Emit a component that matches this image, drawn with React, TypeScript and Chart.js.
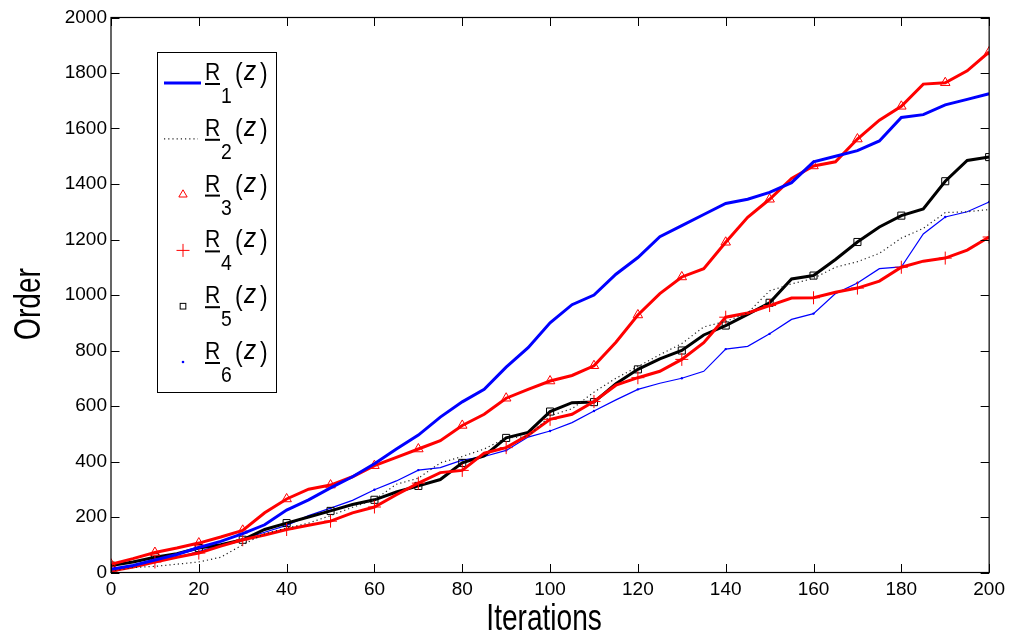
import React, { useEffect, useRef } from 'react';
import { Chart, registerables } from 'chart.js';

Chart.register(...registerables);

// ---------- data ----------
const iterations = [
  0, 5, 10, 15, 20, 25, 30, 35, 40, 45, 50, 55, 60, 65, 70, 75, 80, 85, 90, 95, 100,
  105, 110, 115, 120, 125, 130, 135, 140, 145, 150, 155, 160, 165, 170, 175, 180, 185, 190, 195, 200,
];

const r1Values = [
  12, 25, 45, 65, 90, 112, 140, 172, 225, 262, 305, 345, 392, 445, 495, 560, 615, 660, 740, 810, 900,
  965, 1000, 1075, 1135, 1210, 1250, 1290, 1330, 1345, 1370, 1405, 1480, 1500, 1520, 1555, 1640, 1650, 1685, 1705, 1725,
];
const r2Values = [
  5, 18, 22, 30, 38, 55, 100, 140, 160, 178, 205, 235, 262, 318, 340, 395, 418, 445, 485, 490, 565,
  590, 650, 700, 742, 785, 825, 885, 905, 935, 1015, 1040, 1060, 1100, 1120, 1150, 1205, 1240, 1297, 1300, 1308,
];
const r3Values = [
  30, 50, 72, 88, 106, 128, 152, 215, 265, 300, 315, 345, 385, 415, 445, 475, 530, 570, 628, 660, 690,
  710, 745, 830, 928, 1005, 1065, 1095, 1190, 1280, 1345, 1420, 1465, 1480, 1562, 1630, 1680, 1760, 1765, 1808, 1876,
];
const r4Values = [
  5, 20, 38, 55, 70, 95, 118, 135, 155, 170, 185, 215, 236, 280, 322, 360, 368, 430, 450, 495, 552,
  570, 616, 675, 702, 725, 768, 828, 920, 935, 962, 989, 990, 1010, 1025, 1050, 1100, 1122, 1133, 1162, 1209,
];
const r5Values = [
  25, 38, 55, 68, 88, 100, 118, 155, 178, 200, 222, 245, 262, 290, 312, 335, 395, 420, 485, 505, 580,
  612, 614, 680, 732, 770, 800, 856, 890, 930, 972, 1058, 1070, 1128, 1191, 1245, 1286, 1310, 1410, 1485, 1497,
];
const r6Values = [
  8, 20, 38, 55, 75, 100, 120, 145, 170, 205, 232, 260, 298, 330, 369, 378, 405, 418, 440, 488, 510,
  540, 582, 622, 660, 682, 700, 725, 805, 815, 860, 912, 933, 1005, 1043, 1095, 1101, 1220, 1281, 1300, 1335,
];

const xTicks = [0, 20, 40, 60, 80, 100, 120, 140, 160, 180, 200];
const yTicks = [0, 200, 400, 600, 800, 1000, 1200, 1400, 1600, 1800, 2000];
const seriesIndices = ['1', '2', '3', '4', '5', '6'];
const xTitle = 'Iterations';
const yTitle = 'Order';

// ---------- layout / style ----------
const W = 1011;
const H = 636;
const AREA = { left: 111, top: 17.5, right: 991, bottom: 572.5 };
const FONT = '"Liberation Sans", Arial, Helvetica, sans-serif';
const BLUE = '#0000ff';
const RED = '#ff0000';
const BLACK = '#000000';

const toPoints = (vals: number[]) => iterations.map((x, i) => ({ x, y: vals[i] }));
const markerEvery10 = (r: number) => (ctx: any) =>
  iterations[ctx.dataIndex] % 10 === 0 ? r : 0;

function drawMarker(ctx: CanvasRenderingContext2D, style: string, x: number, y: number, r: number, color: string) {
  ctx.save();
  ctx.strokeStyle = color;
  ctx.fillStyle = color;
  ctx.lineWidth = 1;
  ctx.beginPath();
  if (style === 'triangle') {
    ctx.moveTo(x, y - r);
    ctx.lineTo(x + r * Math.cos(Math.PI / 6), y + r * Math.sin(Math.PI / 6));
    ctx.lineTo(x - r * Math.cos(Math.PI / 6), y + r * Math.sin(Math.PI / 6));
    ctx.closePath();
    ctx.stroke();
  } else if (style === 'cross') {
    ctx.moveTo(x - r, y);
    ctx.lineTo(x + r, y);
    ctx.moveTo(x, y - r);
    ctx.lineTo(x, y + r);
    ctx.stroke();
  } else if (style === 'rect') {
    const s = r * Math.SQRT2;
    ctx.strokeRect(x - s / 2, y - s / 2, s, s);
  } else if (style === 'dot') {
    ctx.arc(x, y, r, 0, Math.PI * 2);
    ctx.fill();
  }
  ctx.restore();
}

function scaledText(ctx: CanvasRenderingContext2D, text: string, x: number, y: number, font: string, sx: number, align: CanvasTextAlign = 'left') {
  ctx.save();
  ctx.font = font;
  ctx.textAlign = align;
  ctx.textBaseline = 'alphabetic';
  ctx.translate(x, y);
  ctx.scale(sx, 1);
  ctx.fillText(text, 0, 0);
  ctx.restore();
}

const framePlugin = {
  id: 'matlabFrame',
  afterDraw(chart: any) {
    const ctx: CanvasRenderingContext2D = chart.ctx;
    const { left, right, top, bottom } = chart.chartArea;
    const xs = chart.scales.x;
    const ys = chart.scales.y;
    const TL = 8.5;
    ctx.save();
    ctx.strokeStyle = BLACK;
    ctx.lineWidth = 1.2;
    ctx.strokeRect(left, top, right - left, bottom - top);
    ctx.beginPath();
    xTicks.forEach((v) => {
      const px = Math.round(xs.getPixelForValue(v)) + 0.5;
      ctx.moveTo(px, bottom);
      ctx.lineTo(px, bottom - TL);
      ctx.moveTo(px, top);
      ctx.lineTo(px, top + TL);
    });
    yTicks.forEach((v) => {
      const py = Math.round(ys.getPixelForValue(v)) + 0.5;
      ctx.moveTo(left, py);
      ctx.lineTo(left + TL, py);
      ctx.moveTo(right, py);
      ctx.lineTo(right - TL, py);
    });
    ctx.lineWidth = 1;
    ctx.stroke();

    // axis titles
    ctx.fillStyle = BLACK;
    scaledText(ctx, xTitle, (left + right) / 2 - 6, 630, `36px ${FONT}`, 0.78, 'center');
    ctx.save();
    ctx.translate(40, 304);
    ctx.rotate(-Math.PI / 2);
    scaledText(ctx, yTitle, 0, 0, `36px ${FONT}`, 0.78, 'center');
    ctx.restore();

    // legend
    const bx = 157, by = 52, bw = 119, bh = 340;
    ctx.fillStyle = '#ffffff';
    ctx.fillRect(bx, by, bw, bh);
    ctx.strokeStyle = BLACK;
    ctx.lineWidth = 1;
    ctx.strokeRect(bx + 0.5, by + 0.5, bw, bh);
    const styles = [
      { kind: 'line', color: BLUE },
      { kind: 'dotted', color: '#222' },
      { kind: 'triangle', color: RED },
      { kind: 'cross', color: RED },
      { kind: 'rect', color: BLACK },
      { kind: 'dot', color: BLUE },
    ];
    seriesIndices.forEach((idx, i) => {
      const base = 80 + i * 55.8;
      const my = base + 3;
      const st = styles[i];
      if (st.kind === 'line') {
        ctx.save();
        ctx.strokeStyle = st.color;
        ctx.lineWidth = 3;
        ctx.beginPath();
        ctx.moveTo(164, my);
        ctx.lineTo(201, my);
        ctx.stroke();
        ctx.restore();
      } else if (st.kind === 'dotted') {
        ctx.save();
        ctx.strokeStyle = st.color;
        ctx.lineWidth = 1.2;
        ctx.setLineDash([1.2, 3]);
        ctx.beginPath();
        ctx.moveTo(164, my);
        ctx.lineTo(198, my);
        ctx.stroke();
        ctx.restore();
      } else if (st.kind === 'triangle') {
        drawMarker(ctx, 'triangle', 183, my, 4.8, st.color);
      } else if (st.kind === 'cross') {
        drawMarker(ctx, 'cross', 183, my, 6.5, st.color);
      } else if (st.kind === 'rect') {
        drawMarker(ctx, 'rect', 183, my, 4, st.color);
      } else {
        drawMarker(ctx, 'dot', 183, my, 1.3, st.color);
      }
      ctx.fillStyle = BLACK;
      scaledText(ctx, 'R', 205, base, `24px ${FONT}`, 0.88);
      ctx.fillRect(205, base + 3, 15, 2);
      scaledText(ctx, idx, 221, base + 23, `22px ${FONT}`, 0.88);
      scaledText(ctx, '(', 235, base + 2, `27px ${FONT}`, 0.85);
      scaledText(ctx, 'z', 244, base, `italic 27px ${FONT}`, 0.9);
      scaledText(ctx, ')', 260, base + 2, `27px ${FONT}`, 0.85);
    });
    ctx.restore();
  },
};

export default function App() {
  const canvasRef = useRef<HTMLCanvasElement | null>(null);

  useEffect(() => {
    const canvas = canvasRef.current;
    if (!canvas) return;
    const chart = new Chart(canvas, {
      type: 'line',
      data: {
        datasets: [
          {
            label: 'R1(z)',
            data: toPoints(r1Values),
            borderColor: BLUE,
            borderWidth: 3,
            pointRadius: 0,
          },
          {
            label: 'R2(z)',
            data: toPoints(r2Values),
            borderColor: '#222',
            borderWidth: 1.2,
            borderDash: [1.2, 3],
            pointRadius: 0,
          },
          {
            label: 'R3(z)',
            data: toPoints(r3Values),
            borderColor: RED,
            borderWidth: 3,
            pointStyle: 'triangle',
            pointRadius: markerEvery10(5.5),
            pointBorderColor: RED,
            pointBackgroundColor: 'rgba(0,0,0,0)',
            pointBorderWidth: 1,
          },
          {
            label: 'R4(z)',
            data: toPoints(r4Values),
            borderColor: RED,
            borderWidth: 3,
            pointStyle: 'cross',
            pointRadius: markerEvery10(6.5),
            pointBorderColor: RED,
            pointBorderWidth: 1,
          },
          {
            label: 'R5(z)',
            data: toPoints(r5Values),
            borderColor: BLACK,
            borderWidth: 3,
            pointStyle: 'rect',
            pointRadius: markerEvery10(5),
            pointBorderColor: BLACK,
            pointBackgroundColor: 'rgba(0,0,0,0)',
            pointBorderWidth: 1,
          },
          {
            label: 'R6(z)',
            data: toPoints(r6Values),
            borderColor: BLUE,
            borderWidth: 1.2,
            pointStyle: 'circle',
            pointRadius: markerEvery10(1.2),
            pointBorderColor: BLUE,
            pointBackgroundColor: BLUE,
            pointBorderWidth: 0,
          },
        ],
      },
      options: {
        responsive: false,
        animation: false,
        events: [],
        layout: { padding: { top: AREA.top, right: W - AREA.right, left: 0, bottom: 0 } },
        elements: { line: { tension: 0 } },
        plugins: {
          legend: { display: false },
          tooltip: { enabled: false },
        },
        scales: {
          x: {
            type: 'linear',
            min: 0,
            max: 200,
            afterFit: (s: any) => { s.height = H - AREA.bottom; },
            afterBuildTicks: (s: any) => { s.ticks = xTicks.map((v) => ({ value: v })); },
            ticks: {
              autoSkip: false,
              maxRotation: 0,
              padding: 6,
              color: BLACK,
              font: { family: FONT, size: 19 },
              callback: (v: any) => String(v),
            },
            grid: { display: false, drawTicks: false },
            border: { display: false },
          },
          y: {
            type: 'linear',
            min: 0,
            max: 2000,
            afterFit: (s: any) => { s.width = AREA.left; },
            afterBuildTicks: (s: any) => { s.ticks = yTicks.map((v) => ({ value: v })); },
            ticks: {
              autoSkip: false,
              padding: 4,
              color: BLACK,
              font: { family: FONT, size: 19 },
              callback: (v: any) => String(v),
            },
            grid: { display: false, drawTicks: false },
            border: { display: false },
          },
        },
      },
      plugins: [framePlugin],
    } as any);
    return () => chart.destroy();
  }, []);

  return (
    <div style={{ position: 'fixed', left: 0, top: 0, width: W, height: H, background: '#fff' }}>
      <canvas ref={canvasRef} width={W} height={H} style={{ width: W, height: H, display: 'block' }} />
    </div>
  );
}
